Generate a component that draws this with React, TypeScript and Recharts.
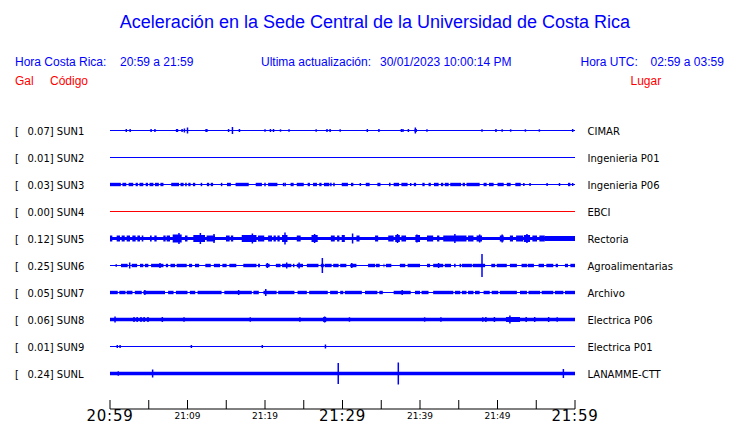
import React from 'react';
import { ComposedChart, XAxis, YAxis, ReferenceLine, ReferenceArea } from 'recharts';

// ---------- data ----------
const stations = ['SUN1', 'SUN2', 'SUN3', 'SUN4', 'SUN5', 'SUN6', 'SUN7', 'SUN8', 'SUN9', 'SUNL'];
const gals = ['0.07', '0.01', '0.03', '0.00', '0.12', '0.25', '0.05', '0.06', '0.01', '0.24'];
const places = ['CIMAR', 'Ingenieria P01', 'Ingenieria P06', 'EBCI', 'Rectoria', 'Agroalimentarias', 'Archivo', 'Electrica P06', 'Electrica P01', 'LANAMME-CTT'];

// minutes after 20:59
const timeTicks = [0, 5, 10, 15, 20, 25, 30, 35, 40, 45, 50, 55, 60];
const labelMinutes = [0, 10, 20, 30, 40, 50, 60];
const labelTexts = ['20:59', '21:09', '21:19', '21:29', '21:39', '21:49', '21:59'];
const bigLabelMinutes = [0, 30, 60];

// bursts: [start minute, end minute, half amplitude]; spikes: [minute, half amplitude]
const sun1Bursts = [[8.5, 8.8, 1.5], [12.3, 12.6, 1.5], [16.6, 16.8, 1.5], [23.0, 23.2, 1.2], [39.3, 39.6, 1.5]];
const sun1Spikes = [[2.1, 1.5], [2.6, 1.5], [5.3, 1.5], [5.8, 1.5], [9.3, 1.5], [9.6, 2], [10.0, 3], [15.3, 1.5], [15.8, 3.5], [20.0, 1.2], [20.7, 1.5], [21.1, 1.5], [22.0, 1.2], [26.6, 1.2], [28.0, 1.5], [28.4, 1.5], [29.7, 1.2], [33.2, 1.5], [34.7, 1.5], [37.6, 1.5], [37.8, 1.5], [38.5, 1.5], [39.4, 3], [40.9, 1.2], [48.0, 1.2], [49.8, 1.5], [50.6, 1.2], [51.7, 1.2], [53.6, 1.2], [55.4, 1.2], [59.7, 1.5]];

const sun2Bursts: number[][] = [];
const sun2Spikes: number[][] = [];

const sun3Bursts = [[0, 1.4, 1.7], [1.6, 2.1, 1.7], [2.4, 3.0, 1.7], [3.3, 3.6, 1.7], [3.8, 4.3, 1.7], [4.6, 4.9, 1.7], [5.1, 5.6, 1.7], [5.8, 6.3, 1.7], [6.5, 6.9, 1.7], [7.9, 8.9, 1.7], [9.1, 9.5, 1.7], [9.7, 9.9, 1.7], [10.1, 10.4, 1.7], [10.7, 11.0, 1.7], [11.7, 11.9, 1.7], [12.5, 12.8, 1.7], [13.0, 13.3, 1.7], [15.1, 15.6, 1.7], [16.2, 17.9, 1.7], [18.8, 19.6, 1.7], [20.4, 21.6, 1.7], [23.3, 23.7, 1.7], [24.1, 25.0, 1.7], [25.5, 25.8, 1.7], [26.2, 26.7, 1.7], [27.0, 27.3, 1.7], [27.6, 28.3, 1.7], [29.9, 30.7, 1.7], [31.1, 31.4, 1.7], [33.0, 33.5, 1.7], [34.5, 34.9, 1.7], [36.0, 36.2, 1.7], [36.6, 37.3, 1.7], [37.6, 38.4, 1.7], [39.2, 39.5, 1.7], [40.3, 40.6, 1.7], [41.1, 41.4, 1.7], [41.8, 42.4, 1.7], [42.7, 43.0, 1.7], [43.2, 43.7, 1.7], [43.9, 45.3, 1.7], [45.5, 45.8, 1.7], [46.0, 47.7, 1.7], [48.2, 48.6, 1.7], [48.9, 49.5, 1.7], [50.0, 50.8, 1.7], [51.2, 51.7, 1.7], [52.3, 53.0, 1.7], [59.1, 59.4, 1.7]];
const sun3Spikes = [[14.4, 1.7], [20.0, 1.7], [22.4, 1.7], [22.6, 1.7], [28.5, 1.7], [28.9, 1.7], [32.3, 1.5], [38.8, 1.5], [53.4, 1.5], [54.2, 1.5], [56.4, 1.5], [58.0, 1.5], [59.7, 1.5]];

const sun4Bursts: number[][] = [];
const sun4Spikes: number[][] = [];

const sun5Bursts = [[0, 0.3, 3], [0.86, 1.29, 3], [1.5, 1.9, 3], [2.15, 2.58, 3], [2.88, 3.31, 3], [3.53, 3.87, 3], [4.09, 4.3, 3], [5.16, 5.38, 3], [5.72, 6.02, 3], [6.88, 7.18, 3], [7.31, 7.74, 3], [8.09, 9.25, 4], [9.68, 10.0, 3], [10.75, 12.26, 3.5], [12.47, 13.55, 3], [14.97, 15.44, 3], [15.6, 15.9, 3], [17.0, 18.9, 3.5], [19.1, 19.9, 3], [20.4, 20.9, 3], [21.1, 21.4, 3], [21.6, 21.9, 3], [22.2, 22.9, 3.5], [24.1, 24.6, 3], [26.0, 26.8, 3.5], [28.5, 29.0, 3], [29.3, 29.6, 3], [29.9, 30.3, 3.5], [31.8, 32.2, 3], [34.2, 34.6, 3], [35.9, 36.6, 3], [36.8, 37.4, 3.5], [37.6, 38.2, 3], [39.4, 40.0, 3.5], [40.9, 41.7, 3], [42.2, 42.5, 3], [43.0, 46.0, 3], [46.2, 46.9, 3], [47.3, 48.0, 3], [50.3, 50.8, 3], [51.6, 52.0, 3], [52.4, 53.3, 3], [53.4, 54.2, 3.5], [54.5, 55.1, 3], [55.4, 56.1, 3], [56.1, 60, 2.5]];
const sun5Spikes = [[8.9, 5.5], [11.66, 5.5], [13.42, 4.5], [18.37, 5], [22.58, 6], [26.4, 4.5], [31.3, 5], [37.1, 4.5], [39.6, 4], [44.5, 4.5], [47.7, 4], [50.6, 4], [53.8, 4.5]];

const sun6Bursts = [[1.42, 2.28, 1.7], [2.8, 3.5, 1.7], [3.87, 4.3, 1.7], [4.5, 4.95, 1.7], [5.3, 6.9, 1.7], [7.2, 7.5, 1.7], [7.8, 8.4, 1.7], [8.6, 9.9, 1.7], [10.2, 10.6, 1.7], [10.97, 11.5, 1.7], [12.3, 13.0, 1.7], [13.4, 14.2, 1.7], [14.5, 15.05, 1.7], [15.4, 16.3, 1.7], [17.2, 18.9, 1.7], [19.1, 19.35, 1.7], [20.1, 20.6, 1.7], [21.4, 22.0, 1.7], [22.2, 23.4, 1.7], [23.6, 23.8, 1.7], [24.1, 24.9, 1.7], [25.4, 26.9, 1.7], [27.2, 27.6, 1.7], [27.7, 28.6, 1.7], [28.8, 29.5, 1.7], [29.7, 30.5, 1.7], [31.0, 31.8, 1.7], [33.3, 34.2, 1.7], [34.3, 34.8, 1.7], [35.3, 35.4, 1.7], [35.6, 36.3, 1.7], [37.4, 38.1, 1.7], [38.4, 40.0, 1.7], [40.9, 41.3, 1.7], [41.7, 43.0, 1.7], [43.2, 44.0, 1.7], [44.4, 44.6, 1.7], [45.1, 45.3, 1.7], [45.4, 46.7, 1.7], [46.8, 48.4, 1.7], [49.2, 49.7, 1.7], [49.9, 51.2, 1.7], [51.6, 52.5, 1.7], [53.1, 53.8, 1.7], [53.9, 54.7, 1.7], [55.3, 56.0, 1.7], [56.3, 57.2, 1.7], [57.5, 57.8, 1.7], [58.7, 59.1, 1.7], [59.4, 60, 1.7]];
const sun6Spikes = [[0.8, 1.2], [2.54, 3], [6.45, 2.5], [20.3, 2.5], [22.8, 3], [24.4, 3], [27.4, 7.5], [31.2, 2.5], [42.4, 2.5], [48.0, 11.5]];

const sun7Bursts = [[0, 1.0, 1.7], [1.2, 2.0, 1.7], [2.15, 2.9, 1.7], [3.2, 4.1, 1.7], [4.3, 7.1, 1.7], [7.5, 8.2, 1.7], [8.5, 10.0, 1.7], [10.3, 11.0, 1.7], [11.3, 14.4, 1.7], [14.75, 18.3, 1.7], [18.5, 19.2, 1.7], [19.8, 21.5, 1.7], [21.7, 23.8, 1.7], [24.2, 25.4, 1.7], [25.7, 28.1, 1.7], [28.4, 29.4, 1.7], [29.7, 30.1, 1.7], [30.3, 32.5, 1.7], [32.9, 34.5, 1.7], [34.75, 35.2, 1.7], [36.6, 38.8, 1.7], [39.35, 40.0, 1.7], [40.2, 41.1, 1.7], [41.7, 44.3, 1.7], [44.5, 45.2, 1.7], [45.4, 46.0, 1.7], [46.2, 46.9, 1.7], [47.1, 47.7, 1.7], [48.2, 49.0, 1.7], [49.25, 50.1, 1.7], [50.3, 52.5, 1.7], [52.9, 53.8, 1.7], [54.0, 55.5, 1.7], [55.7, 57.2, 1.7], [57.4, 58.5, 1.7], [58.7, 60, 1.7]];
const sun7Spikes = [[4.5, 2.5], [16.6, 2.5], [20.1, 3.5], [37.7, 2.5]];

const sun8Bursts = [[27.5, 27.9, 2.5], [51.1, 52.9, 2.5]];
const sun8Spikes = [[0.65, 3], [3.1, 2.5], [3.5, 2.5], [4.0, 2.5], [4.4, 2.5], [4.9, 2.5], [6.75, 2.5], [9.55, 2.2], [18.1, 2.2], [24.5, 2.2], [27.7, 3], [30.9, 2.2], [40.6, 2.2], [42.7, 2.2], [48.1, 2.2], [48.5, 2.5], [49.6, 2.5], [51.6, 4], [53.7, 2.5], [54.8, 2.5], [56.6, 2.5], [57.7, 2.2]];

const sun9Bursts: number[][] = [];
const sun9Spikes = [[0.94, 1.5], [1.3, 1.5], [10.5, 1.5], [19.65, 1.5], [27.8, 2]];

const sunLBursts: number[][] = [];
const sunLSpikes = [[1.07, 2.2], [5.5, 4], [29.45, 10.5], [37.2, 11], [58.5, 4.5]];

const allBursts = [sun1Bursts, sun2Bursts, sun3Bursts, sun4Bursts, sun5Bursts, sun6Bursts, sun7Bursts, sun8Bursts, sun9Bursts, sunLBursts];
const allSpikes = [sun1Spikes, sun2Spikes, sun3Spikes, sun4Spikes, sun5Spikes, sun6Spikes, sun7Spikes, sun8Spikes, sun9Spikes, sunLSpikes];

// ---------- styles ----------
const BLUE = '#0000ff';
const RED = '#ff0000';
const traceColors = [BLUE, BLUE, BLUE, RED, BLUE, BLUE, BLUE, BLUE, BLUE, BLUE];
const baseWidths = [1, 1, 1, 1, 3, 1, 1, 3.5, 1, 3.5];
const SPACING = 27;
const Y_DOMAIN = [-35.5, 270.5];
const offsetOf = (i: number) => (stations.length - 1 - i) * SPACING;
const offsets = stations.map((_, i) => offsetOf(i));
const indexOfOffset = (v: number) => stations.length - 1 - Math.round(v / SPACING);

const chartData = timeTicks.map((t) => ({ t }));

const LeftTick = (props: any) => {
  const { y, payload } = props;
  const i = indexOfOffset(payload.value);
  return (
    <g>
      <text x={15} y={y + 4} fontFamily="DejaVu Sans" fontSize={10} fill="#000">[</text>
      <text x={27.5} y={y + 4} fontFamily="DejaVu Sans" fontSize={10} fill="#000">{`${gals[i]}] ${stations[i]}`}</text>
    </g>
  );
};

const RightTick = (props: any) => {
  const { y, payload } = props;
  const i = indexOfOffset(payload.value);
  return (
    <text x={587.5} y={y + 4} fontFamily="DejaVu Sans" fontSize={10} fill="#000">{places[i]}</text>
  );
};

const TimeTick = (props: any) => {
  const { x, y, payload } = props;
  const v = payload.value;
  const li = labelMinutes.indexOf(v);
  const big = bigLabelMinutes.includes(v);
  return (
    <g>
      <line x1={x} x2={x} y1={y - 9} y2={y} stroke="#000" strokeWidth={1} />
      {li >= 0 && (
        <text
          x={x}
          y={y + (big ? 11.5 : 9.5)}
          textAnchor="middle"
          fontFamily="DejaVu Sans"
          fontSize={big ? 15 : 9}
          letterSpacing={big ? 0.8 : 0}
          fill="#000"
        >
          {labelTexts[li]}
        </text>
      )}
    </g>
  );
};

export default function App() {
  const elements: any[] = [];
  stations.forEach((s, i) => {
    const off = offsetOf(i);
    const color = traceColors[i];
    elements.push(
      <ReferenceLine key={`base-${s}`} y={off} stroke={color} strokeWidth={baseWidths[i]} />
    );
    allBursts[i].forEach((b, k) => {
      elements.push(
        <ReferenceArea key={`b-${s}-${k}`} x1={b[0]} x2={b[1]} y1={off - b[2]} y2={off + b[2]} fill={color} fillOpacity={1} stroke="none" />
      );
    });
    allSpikes[i].forEach((p, k) => {
      elements.push(
        <ReferenceLine key={`s-${s}-${k}`} segment={[{ x: p[0], y: off - p[1] }, { x: p[0], y: off + p[1] }]} stroke={color} strokeWidth={1.5} />
      );
    });
  });

  const hdr = { fontFamily: '"Liberation Sans", Arial, sans-serif' };

  return (
    <div style={{ position: 'absolute', left: 0, top: 0, width: 740, height: 423, background: '#fff' }}>
      <ComposedChart width={740} height={423} data={chartData} margin={{ top: 103, right: 0, bottom: 0, left: 0 }}>
        <XAxis
          type="number"
          dataKey="t"
          domain={[0, 60]}
          ticks={timeTicks}
          interval={0}
          height={14}
          tickSize={0}
          tickMargin={0}
          tickLine={false}
          axisLine={{ stroke: '#000', strokeWidth: 1 }}
          tick={<TimeTick />}
          allowDataOverflow
        />
        <YAxis
          type="number"
          domain={Y_DOMAIN}
          ticks={offsets}
          interval={0}
          width={110}
          axisLine={false}
          tickLine={false}
          tick={<LeftTick />}
          allowDataOverflow
        />
        <YAxis
          yAxisId="right"
          orientation="right"
          type="number"
          domain={Y_DOMAIN}
          ticks={offsets}
          interval={0}
          width={165}
          axisLine={false}
          tickLine={false}
          tick={<RightTick />}
          allowDataOverflow
        />
        {elements}
      </ComposedChart>
      <svg width={740} height={423} style={{ position: 'absolute', left: 0, top: 0, pointerEvents: 'none' }}>
        <text x={375} y={28} textAnchor="middle" fontSize={18} fill={BLUE} style={hdr}>
          Aceleración en la Sede Central de la Universidad de Costa Rica
        </text>
        <text x={15} y={66} fontSize={12} fill={BLUE} style={hdr}>Hora Costa Rica:</text>
        <text x={120} y={66} fontSize={12} fill={BLUE} style={hdr}>20:59 a 21:59</text>
        <text x={261} y={66} fontSize={12} fill={BLUE} style={hdr}>Ultima actualización:</text>
        <text x={380} y={66} fontSize={12} fill={BLUE} style={hdr}>30/01/2023 10:00:14 PM</text>
        <text x={580.5} y={66} fontSize={12} fill={BLUE} style={hdr}>Hora UTC:</text>
        <text x={650.5} y={66} fontSize={12} fill={BLUE} style={hdr}>02:59 a 03:59</text>
        <text x={15} y={85} fontSize={12} fill={RED} style={hdr}>Gal</text>
        <text x={50} y={85} fontSize={12} fill={RED} style={hdr}>Código</text>
        <text x={630.5} y={85} fontSize={12} fill={RED} style={hdr}>Lugar</text>
      </svg>
    </div>
  );
}
